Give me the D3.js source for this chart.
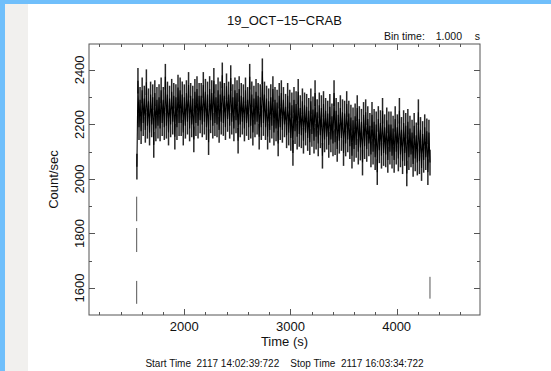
<!DOCTYPE html>
<html>
<head>
<meta charset="utf-8">
<script src="https://cdn.jsdelivr.net/npm/d3@7"></script>
<style>
  html, body { margin: 0; padding: 0; background: #fff; }
  svg { display: block; }
  text { font-family: "Liberation Sans", Arial, Helvetica, sans-serif; fill: #111; }
</style>
</head>
<body>
<svg id="chart" width="551" height="371"></svg>
<script>
// Light curve, 1 s bins, summarised as alternating high/low count rates
const title = "19_OCT\u221215\u2212CRAB";
const binLabel = "Bin time:";
const binValue = "1.000";
const binUnit = "s";
const startStop = "Start Time  2117 14:02:39:722    Stop Time  2117 16:03:34:722";
const xLabel = "Time (s)";
const yLabel = "Count/sec";

const seriesStart = 1554;   // s, first bin of the main run
const seriesStop = 4314;    // s, last bin of the main run
const rateError = 47;       // count/sec, 1-sigma uncertainty of a 1 s bin

const rates = [
  2045, 2360, 2190, 2290, 2175, 2325, 2205, 2295, 2180, 2355, 2195, 2285, 2170, 2310, 2200, 2300, 2125, 2315, 2185, 2290, 2195,
  2300, 2185, 2325, 2205, 2290, 2190, 2375, 2195, 2310, 2170, 2295, 2200, 2320, 2210, 2305, 2155, 2300, 2190, 2335, 2205,
  2325, 2205, 2310, 2170, 2300, 2195, 2315, 2210, 2345, 2185, 2305, 2200, 2295, 2145, 2320, 2205, 2330, 2195, 2305, 2215,
  2305, 2200, 2345, 2210, 2320, 2190, 2310, 2135, 2330, 2215, 2315, 2195, 2360, 2205, 2300, 2200, 2325, 2180, 2310, 2210,
  2380, 2205, 2305, 2190, 2340, 2220, 2310, 2195, 2370, 2210, 2300, 2185, 2325, 2215, 2315, 2140, 2330, 2200, 2305, 2210,
  2300, 2185, 2325, 2205, 2290, 2190, 2375, 2195, 2310, 2170, 2295, 2200, 2320, 2210, 2305, 2155, 2300, 2190, 2395, 2205,
  2310, 2190, 2295, 2155, 2285, 2180, 2300, 2195, 2330, 2170, 2290, 2185, 2280, 2130, 2305, 2190, 2315, 2180, 2290, 2200,
  2265, 2160, 2305, 2170, 2280, 2150, 2270, 2095, 2290, 2175, 2275, 2155, 2320, 2165, 2260, 2160, 2285, 2140, 2270, 2170,
  2265, 2150, 2250, 2135, 2285, 2165, 2255, 2140, 2315, 2155, 2245, 2130, 2270, 2160, 2260, 2085, 2275, 2145, 2250, 2155,
  2240, 2125, 2265, 2145, 2230, 2130, 2315, 2135, 2250, 2110, 2235, 2140, 2260, 2150, 2245, 2095, 2240, 2130, 2275, 2145,
  2240, 2120, 2225, 2085, 2215, 2110, 2230, 2125, 2260, 2100, 2220, 2115, 2210, 2060, 2235, 2120, 2245, 2110, 2220, 2130,
  2195, 2090, 2235, 2100, 2210, 2080, 2200, 2025, 2220, 2105, 2205, 2085, 2250, 2095, 2190, 2090, 2215, 2070, 2200, 2100,
  2200, 2085, 2185, 2070, 2220, 2100, 2190, 2075, 2250, 2090, 2180, 2065, 2205, 2095, 2195, 2020, 2210, 2080, 2185, 2090,
  2170, 2055, 2195, 2075, 2160, 2060, 2245, 2065, 2180, 2040, 2165, 2070, 2190, 2080, 2175, 2025, 2170, 2060
];

// Partial-exposure bins at the run edges, drawn as error bars only
const edgeTimes = [1552, 1552, 1552, 4314];
const edgeRates = [1890, 1776, 1584, 1601];
const edgeErrors = [45, 44, 42, 40];

const xMajor = [2000, 3000, 4000];
const yMajor = [1600, 1800, 2000, 2200, 2400];

const svg = d3.select("#chart");

// page background: blue edge, grey strip, white panel
svg.append("rect").attr("x", 0).attr("y", 0).attr("width", 551).attr("height", 371).attr("fill", "#70bffb");
svg.append("rect").attr("x", 5).attr("y", 4).attr("width", 546).attr("height", 367).attr("fill", "#f1f0ee");
svg.append("rect").attr("x", 28).attr("y", 4).attr("width", 523).attr("height", 367).attr("fill", "#ffffff");

const plot = { left: 89, right: 480, top: 44, bottom: 315 };

const x = d3.scaleLinear().domain([1103, 4785]).range([plot.left, plot.right]);
const y = d3.scaleLinear().domain([1501, 2495]).range([plot.bottom, plot.top]);

const times = rates.map((_, i) => seriesStart + i * (seriesStop - seriesStart) / (rates.length - 1));

const g = svg.append("g");

// error bars of the main run
g.selectAll("line.bar")
  .data(rates)
  .join("line")
  .attr("class", "bar")
  .attr("x1", (d, i) => x(times[i]))
  .attr("x2", (d, i) => x(times[i]))
  .attr("y1", d => y(d - rateError))
  .attr("y2", d => y(d + rateError))
  .attr("stroke", "#000")
  .attr("stroke-opacity", 0.85)
  .attr("stroke-width", 1.5);

// main light curve
const line = d3.line().x((d, i) => x(times[i])).y(d => y(d));
g.append("path")
  .datum(rates)
  .attr("d", line)
  .attr("fill", "none")
  .attr("stroke", "#000")
  .attr("stroke-width", 1.1);

// edge bins with error bars
g.selectAll("line.err")
  .data(edgeRates)
  .join("line")
  .attr("class", "err")
  .attr("x1", (d, i) => x(edgeTimes[i]))
  .attr("x2", (d, i) => x(edgeTimes[i]))
  .attr("y1", (d, i) => y(d - edgeErrors[i]))
  .attr("y2", (d, i) => y(d + edgeErrors[i]))
  .attr("stroke", "#555")
  .attr("stroke-width", 1);

// frame with ticks pointing inward on all four sides
const axisColor = "#555";
const frame = svg.append("g");
frame.append("rect")
  .attr("x", plot.left).attr("y", plot.top)
  .attr("width", plot.right - plot.left).attr("height", plot.bottom - plot.top)
  .attr("fill", "none").attr("stroke", axisColor).attr("stroke-width", 1);

const xTicks = x.ticks(20).filter(v => v % 200 === 0);
const yTicks = y.ticks(10);
const isXMajor = v => v % 1000 === 0;
const isYMajor = v => v % 200 === 0;

frame.selectAll("line.xb").data(xTicks).join("line")
  .attr("x1", d => Math.round(x(d)) + 0.5).attr("x2", d => Math.round(x(d)) + 0.5)
  .attr("y1", plot.bottom).attr("y2", d => plot.bottom - (isXMajor(d) ? 6 : 3))
  .attr("stroke", axisColor);
frame.selectAll("line.xt").data(xTicks).join("line")
  .attr("x1", d => Math.round(x(d)) + 0.5).attr("x2", d => Math.round(x(d)) + 0.5)
  .attr("y1", plot.top).attr("y2", d => plot.top + (isXMajor(d) ? 6 : 3))
  .attr("stroke", axisColor);
frame.selectAll("line.yl").data(yTicks).join("line")
  .attr("y1", d => Math.round(y(d)) + 0.5).attr("y2", d => Math.round(y(d)) + 0.5)
  .attr("x1", plot.left).attr("x2", d => plot.left + (isYMajor(d) ? 6 : 3))
  .attr("stroke", axisColor);
frame.selectAll("line.yr").data(yTicks).join("line")
  .attr("y1", d => Math.round(y(d)) + 0.5).attr("y2", d => Math.round(y(d)) + 0.5)
  .attr("x1", plot.right).attr("x2", d => plot.right - (isYMajor(d) ? 6 : 3))
  .attr("stroke", axisColor);

// tick labels
svg.selectAll("text.xl").data(xMajor).join("text")
  .attr("x", d => x(d)).attr("y", 331)
  .attr("text-anchor", "middle").attr("font-size", 13)
  .text(d => d);
svg.selectAll("text.yl").data(yMajor).join("text")
  .attr("transform", d => `translate(84,${y(d)}) rotate(-90)`)
  .attr("text-anchor", "middle").attr("font-size", 13)
  .text(d => d);

// titles
svg.append("text").attr("x", (plot.left + plot.right) / 2).attr("y", 25)
  .attr("text-anchor", "middle").attr("font-size", 13).text(title);
svg.append("text").attr("x", 384).attr("y", 40).attr("font-size", 10.5).text(binLabel);
svg.append("text").attr("x", 462).attr("y", 40).attr("text-anchor", "end").attr("font-size", 10.5).text(binValue);
svg.append("text").attr("x", 480).attr("y", 40).attr("text-anchor", "end").attr("font-size", 10.5).text(binUnit);
svg.append("text").attr("x", (plot.left + plot.right) / 2).attr("y", 346)
  .attr("text-anchor", "middle").attr("font-size", 13).text(xLabel);
svg.append("text").attr("transform", `translate(58,${(plot.top + plot.bottom) / 2}) rotate(-90)`)
  .attr("text-anchor", "middle").attr("font-size", 13).text(yLabel);
svg.append("text").attr("x", (plot.left + plot.right) / 2).attr("y", 367)
  .attr("text-anchor", "middle").attr("font-size", 10).style("white-space", "pre").text(startStop);
</script>
</body>
</html>
